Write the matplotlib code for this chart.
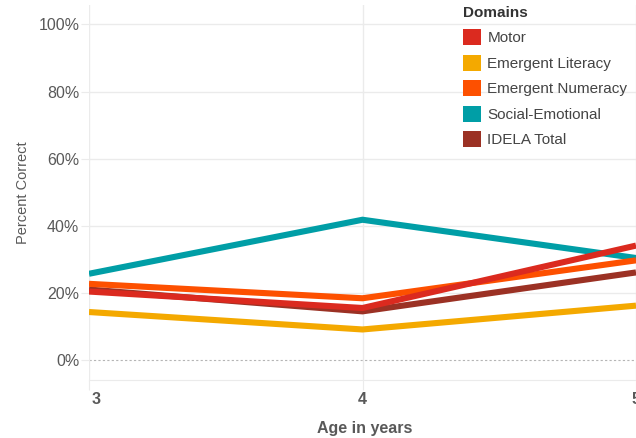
import matplotlib.pyplot as plt
from matplotlib.patches import Patch
from matplotlib.transforms import ScaledTranslation

# age groups (years)
ages = [3, 4, 5]

# percent correct per domain
motor = [20.4, 15.5, 34.1]
emergent_literacy = [14.3, 9.1, 16.2]
emergent_numeracy = [22.7, 18.4, 29.7]
social_emotional = [25.7, 41.8, 30.4]
idela_total = [21.0, 14.5, 26.1]

domains = ['Motor', 'Emergent Literacy', 'Emergent Numeracy', 'Social-Emotional', 'IDELA Total']
colors = ['#db2a1f', '#f4a900', '#fd5000', '#009ea6', '#9b3124']
yticks = [0, 20, 40, 60, 80, 100]
xtick_labels = ['3', '4', '5']

series = dict(zip(domains, [motor, emergent_literacy, emergent_numeracy,
                            social_emotional, idela_total]))
col = dict(zip(domains, colors))

plt.rcParams['font.family'] = ['Liberation Sans', 'DejaVu Sans']
grey = '#595959'
grid_col = '#ebebeb'

fig = plt.figure(figsize=(6.36, 4.38), dpi=100)
ax = fig.add_axes([89 / 636, 1 - 380 / 438, 1 - 89 / 636, 375 / 438])

# draw order so that Motor ends up on top
for name in ['Social-Emotional', 'Emergent Literacy', 'IDELA Total',
             'Emergent Numeracy', 'Motor']:
    ax.plot(ages, series[name], color=col[name], lw=4.4,
            solid_capstyle='butt', solid_joinstyle='miter', zorder=3)

ax.set_xlim(3, 4.961)
ax.set_ylim(-5.96, 105.8)

ax.set_yticks(yticks)
ax.set_yticklabels([f'{v}%' for v in yticks])
ax.set_xticks(ages)
ax.set_xticklabels(xtick_labels)
ax.grid(True, color=grid_col, lw=1, zorder=0)
# zero line
ax.axhline(0, color='#b5b5b5', lw=0.8, ls=(0, (2, 2)), zorder=1)
ax.get_ygridlines()[0].set_visible(False)

for s in ['top', 'right', 'left']:
    ax.spines[s].set_visible(False)
ax.spines['bottom'].set_color(grid_col)

ax.tick_params(axis='y', length=6, color=grid_col, labelsize=11.5,
               labelcolor=grey, pad=1)
ax.tick_params(axis='x', length=7, color=grid_col, labelsize=11.5,
               labelcolor=grey, pad=2)
for lab in ax.get_xticklabels():
    lab.set_fontweight('bold')
first = ax.get_xticklabels()[0]
first.set_ha('left')
first.set_transform(first.get_transform() + ScaledTranslation(3 / 100, 0, fig.dpi_scale_trans))

ax.set_ylabel('Percent Correct', color=grey, fontsize=10.5, labelpad=6)
fig.text(365 / 636, 1 - 428 / 438, 'Age in years', ha='center', va='center',
         color=grey, fontsize=11.5, fontweight='bold')

handles = [Patch(facecolor=col[d], edgecolor='none', label=d) for d in domains]
leg = fig.legend(handles=handles, title='Domains', loc='upper left',
                 bbox_to_anchor=(463 / 636, 1 - 6 / 438), frameon=False,
                 fontsize=11, handlelength=1.2, handleheight=1.2,
                 handletextpad=0.4, labelspacing=0.62, borderpad=0,
                 borderaxespad=0, alignment='left')
leg.get_title().set_fontweight('bold')
leg.get_title().set_color('#333333')
leg.get_title().set_fontsize(11)
for t in leg.get_texts():
    t.set_color('#444444')

fig.savefig('out.png', dpi=100)
